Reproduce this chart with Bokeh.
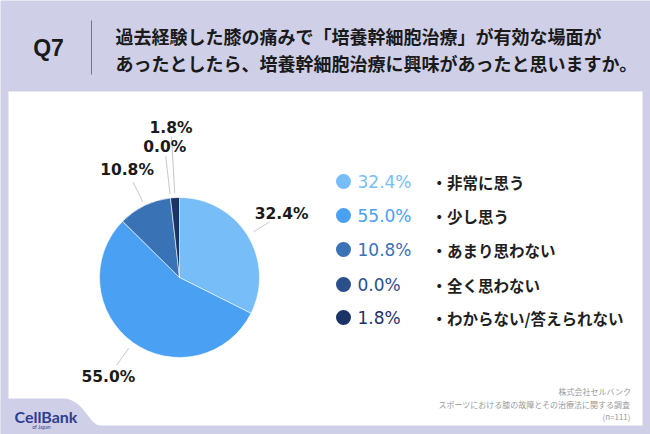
import numpy as np
from bokeh.plotting import figure
from bokeh.models import Range1d, ColumnDataSource
from bokeh.core.properties import value
from bokeh.embed import file_html
from bokeh.resources import INLINE

# ---- data ----
categories = ["非常に思う", "少し思う", "あまり思わない", "全く思わない", "わからない/答えられない"]
percents = [32.4, 55.0, 10.8, 0.0, 1.8]
colors = ["#77bdf8", "#4aa0f3", "#3a72b6", "#2a4f8a", "#1b3468"]
title_q = "Q7"
title_lines = ["過去経験した膝の痛みで「培養幹細胞治療」が有効な場面が",
               "あったとしたら、培養幹細胞治療に興味があったと思いますか。"]
source_lines = ["株式会社セルバンク", "スポーツにおける膝の故障とその治療法に関する調査", "(n=111)"]

# ---- layout ----
W, H = 650, 434
def Y(y):
    return H - y

BG = "#cfd0e8"
CJK = value("Noto Sans CJK JP")
NUM = value("DejaVu Sans")

p = figure(width=W, height=H, x_range=Range1d(0, W), y_range=Range1d(0, H),
           output_backend="svg", toolbar_location=None, min_border=0,
           background_fill_color=BG, border_fill_color=BG, outline_line_color=None)
p.axis.visible = False
p.grid.visible = False

# white panel
p.quad(left=8, right=642, top=Y(91), bottom=Y(425), fill_color="white", line_color=None)

# logo tab (lavender, rounded top-right)
t = np.linspace(0, 1, 30)
P0, P1, P2, P3 = np.array([62, 398]), np.array([84, 398]), np.array([88, 425]), np.array([100, 425])
curve = ((1 - t) ** 3)[:, None] * P0 + (3 * (1 - t) ** 2 * t)[:, None] * P1 + \
        (3 * (1 - t) * t ** 2)[:, None] * P2 + (t ** 3)[:, None] * P3
xs = [0] + list(curve[:, 0]) + [100, 0]
ys = [398] + list(curve[:, 1]) + [434, 434]
p.patch(xs, [Y(v) for v in ys], fill_color=BG, line_color=None)

# ---- title ----
p.text(x=[48], y=[Y(47)], text=[title_q], text_font=value("Liberation Sans"),
       text_font_style="bold", text_font_size="23px", text_color="#1a1a1a",
       text_align="center", text_baseline="middle")
p.segment(x0=[91], y0=[Y(20)], x1=[91], y1=[Y(74)], line_color="#777777", line_width=1)
p.text(x=[115, 115], y=[Y(35), Y(62)], text=title_lines, text_font=CJK,
       text_font_style="bold", text_font_size="18px", text_color="#1a1a1a",
       text_align="left", text_baseline="middle")

# ---- pie ----
cx, cy, R = 179, Y(277), 80
frac = np.array(percents) / sum(percents)
cum = np.concatenate([[0], np.cumsum(frac)])
start = np.pi / 2 - cum[1:] * 2 * np.pi
end = np.pi / 2 - cum[:-1] * 2 * np.pi
keep = frac > 0
src = ColumnDataSource(dict(start=start[keep], end=end[keep],
                            color=[c for c, k in zip(colors, keep) if k]))
p.wedge(x=cx, y=cy, radius=R, start_angle="start", end_angle="end",
        fill_color="color", line_color="white", line_width=0.6, source=src)

mid = np.pi / 2 - (cum[:-1] + frac / 2) * 2 * np.pi
leader_start = [87, 87, 84, 84, 84]
leader_end = [106, 108, 106, 122, 141]
label_radius = [120, 122, 120, 131, 150]
p.segment(x0=cx + np.array(leader_start) * np.cos(mid), y0=cy + np.array(leader_start) * np.sin(mid),
          x1=cx + np.array(leader_end) * np.cos(mid), y1=cy + np.array(leader_end) * np.sin(mid),
          line_color="#c8c8c8", line_width=1)
labels = [f"{v:.1f}%" for v in percents]
p.text(x=cx + np.array(label_radius) * np.cos(mid), y=cy + np.array(label_radius) * np.sin(mid),
       text=labels, text_font=NUM, text_font_style="bold", text_font_size="15.5px",
       text_color="#1a1a1a", text_align="center", text_baseline="middle")

# ---- legend ----
row_y = [Y(v) for v in [181, 215, 249, 284, 317]]
p.scatter(x=[343] * 5, y=row_y, size=15, marker="circle", fill_color=colors, line_color=None)
p.text(x=[357] * 5, y=row_y, text=labels, text_font=NUM,
       text_font_size="17px", text_color=colors, text_align="left", text_baseline="middle")
p.text(x=[431] * 5, y=row_y, text=["・" + c for c in categories], text_font=CJK,
       text_font_style="bold", text_font_size="15.5px", text_color="#1e1e1e",
       text_align="left", text_baseline="middle")

# ---- source ----
p.text(x=[630] * 3, y=[Y(391), Y(404), Y(416)], text=source_lines, text_font=CJK,
       text_font_size="8px", text_color="#9a9a9a", text_align="right", text_baseline="middle")

# ---- logo ----
p.text(x=[14], y=[Y(416)], text=["CellBank"], text_font=value("Lato"), text_font_style="bold",
       text_font_size="16px", text_color="#2e3d8f", text_align="left", text_baseline="middle")
p.text(x=[41], y=[Y(426)], text=["of Japan"], text_font=value("Lato"),
       text_font_size="5px", text_color="#2e3d8f", text_align="center", text_baseline="middle")

open("out.html", "w").write(file_html(p, INLINE))
